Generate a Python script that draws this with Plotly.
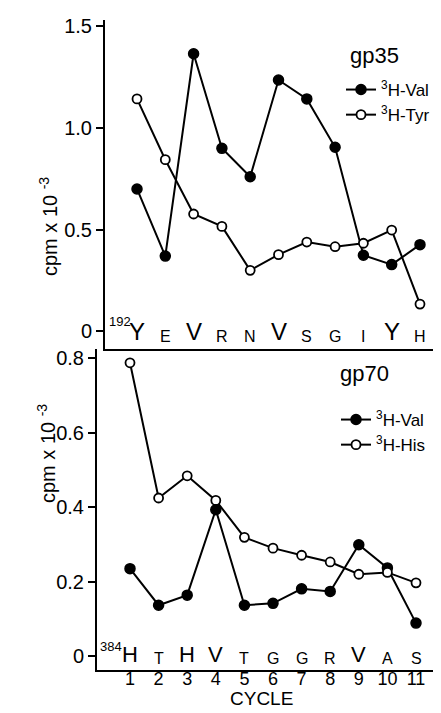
import plotly.graph_objects as go

W, H = 441, 713

cycles = list(range(1, 12))

# gp35 panel
gp35_val = [0.70, 0.37, 1.365, 0.90, 0.76, 1.236, 1.143, 0.905, 0.374, 0.328, 0.426]
gp35_tyr = [1.143, 0.844, 0.577, 0.516, 0.300, 0.377, 0.439, 0.416, 0.433, 0.498, 0.134]
gp35_seq = ["Y", "E", "V", "R", "N", "V", "S", "G", "I", "Y", "H"]
gp35_big = [True, False, True, False, False, True, False, False, False, True, False]

# gp70 panel
gp70_val = [0.235, 0.137, 0.164, 0.393, 0.137, 0.142, 0.181, 0.174, 0.299, 0.237, 0.089]
gp70_his = [0.787, 0.4245, 0.484, 0.418, 0.319, 0.290, 0.271, 0.253, 0.220, 0.225, 0.197]
gp70_seq = ["H", "T", "H", "V", "T", "G", "G", "R", "V", "A", "S"]
gp70_big = [True, False, True, True, False, False, False, False, True, False, False]

top_ticks = [0, 0.5, 1.0, 1.5]
top_ticktext = ["0", "0.5", "1.0", "1.5"]
bot_ticks = [0, 0.2, 0.4, 0.6, 0.8]
bot_ticktext = ["0", "0.2", "0.4", "0.6", "0.8"]
cycle_ticktext = [str(c) for c in cycles]

FONT = "Liberation Sans, Arial, sans-serif"
BLACK = "black"


def px(x):
    return x / W


def py(y):
    return 1 - y / H


fig = go.Figure()

filled = dict(symbol="circle", size=10, color=BLACK, line=dict(color=BLACK, width=1.5))
opened = dict(symbol="circle", size=9, color="white", line=dict(color=BLACK, width=1.8))
lw = dict(color=BLACK, width=2)

fig.add_trace(go.Scatter(x=cycles, y=gp35_val, mode="lines+markers", marker=filled, line=lw,
                         name="<sup>3</sup>H-Val", xaxis="x", yaxis="y", legend="legend"))
fig.add_trace(go.Scatter(x=cycles, y=gp35_tyr, mode="lines+markers", marker=opened, line=lw,
                         name="<sup>3</sup>H-Tyr", xaxis="x", yaxis="y", legend="legend"))
fig.add_trace(go.Scatter(x=cycles, y=gp70_val, mode="lines+markers", marker=filled, line=lw,
                         name="<sup>3</sup>H-Val", xaxis="x2", yaxis="y2", legend="legend2"))
fig.add_trace(go.Scatter(x=cycles, y=gp70_his, mode="lines+markers", marker=opened, line=lw,
                         name="<sup>3</sup>H-His", xaxis="x2", yaxis="y2", legend="legend2"))
# invisible carrier trace for the cycle tick-label axis
fig.add_trace(go.Scatter(x=cycles, y=gp70_his, mode="markers", marker=dict(opacity=0),
                         showlegend=False, hoverinfo="skip", xaxis="x3", yaxis="y2"))

annotations = []
for c, s, b in zip(cycles, gp35_seq, gp35_big):
    annotations.append(dict(x=c, y=-0.078, xref="x", yref="y", text=s, showarrow=False,
                            yanchor="bottom", font=dict(size=24 if b else 16, family=FONT, color=BLACK)))
for c, s, b in zip(cycles, gp70_seq, gp70_big):
    annotations.append(dict(x=c, y=-0.033, xref="x2", yref="y2", text=s, showarrow=False,
                            yanchor="bottom", font=dict(size=22 if b else 16, family=FONT, color=BLACK)))

annotations += [
    dict(x=px(99), y=py(313), xref="paper", yref="paper", text="192", showarrow=False,
         xanchor="left", yanchor="middle", font=dict(size=13, family=FONT, color=BLACK)),
    dict(x=px(90), y=py(638), xref="paper", yref="paper", text="384", showarrow=False,
         xanchor="left", yanchor="middle", font=dict(size=13, family=FONT, color=BLACK)),
    dict(x=px(393), y=py(33), xref="paper", yref="paper", text="gp35", showarrow=False,
         font=dict(size=22, family=FONT, color=BLACK)),
    dict(x=px(383), y=py(365), xref="paper", yref="paper", text="gp70", showarrow=False,
         font=dict(size=22, family=FONT, color=BLACK)),
    dict(x=px(26), y=py(167), xref="paper", yref="paper", text="cpm x 10 <sup>-3</sup>", showarrow=False,
         textangle=-90, font=dict(size=20, family=FONT, color=BLACK)),
    dict(x=px(24), y=py(497), xref="paper", yref="paper", text="cpm x 10 <sup>-3</sup>", showarrow=False,
         textangle=-90, font=dict(size=20, family=FONT, color=BLACK)),
    dict(x=px(253), y=py(703), xref="paper", yref="paper", text="CYCLE", showarrow=False,
         font=dict(size=19, family=FONT, color=BLACK)),
]

axis_common = dict(showgrid=False, zeroline=False, linecolor=BLACK, linewidth=2, automargin=False)
x2_range = [-0.154, 12.014]

fig.update_layout(
    width=W, height=H,
    margin=dict(l=0, r=0, t=0, b=0),
    paper_bgcolor="white", plot_bgcolor="white",
    font=dict(family=FONT, color=BLACK),
    annotations=annotations,
    xaxis=dict(domain=[px(97), 1.0], range=[-0.131, 12.025], anchor="y", showline=True,
               ticks="", showticklabels=False, **axis_common),
    yaxis=dict(domain=[py(341), py(12)], range=[-0.087, 1.531], anchor="x", showline=True,
               ticks="outside", ticklen=7, tickwidth=2, tickcolor=BLACK,
               tickvals=top_ticks, ticktext=top_ticktext,
               tickfont=dict(size=20, family=FONT, color=BLACK), **axis_common),
    xaxis2=dict(domain=[px(89), px(437)], range=x2_range, anchor="y2", showline=True,
                ticks="", showticklabels=False, **axis_common),
    xaxis3=dict(domain=[px(89), px(437)], range=x2_range, overlaying="x2", anchor="free",
                position=py(658), side="bottom", showline=False, ticks="",
                tickvals=cycles, ticktext=cycle_ticktext,
                tickfont=dict(size=18, family=FONT, color=BLACK),
                showgrid=False, zeroline=False, automargin=False),
    yaxis2=dict(domain=[py(662), py(341)], range=[-0.0367, 0.824], anchor="x2", showline=True,
                ticks="outside", ticklen=7, tickwidth=2, tickcolor=BLACK,
                tickvals=bot_ticks, ticktext=bot_ticktext,
                tickfont=dict(size=20, family=FONT, color=BLACK), **axis_common),
    legend=dict(x=px(333), y=py(64), xanchor="left", yanchor="top", bgcolor="rgba(0,0,0,0)",
                font=dict(size=17, family=FONT, color=BLACK), itemwidth=30, tracegroupgap=0),
    legend2=dict(x=px(328), y=py(394), xanchor="left", yanchor="top", bgcolor="rgba(0,0,0,0)",
                 font=dict(size=17, family=FONT, color=BLACK), itemwidth=30, tracegroupgap=0),
)

fig.write_html("out.html")
